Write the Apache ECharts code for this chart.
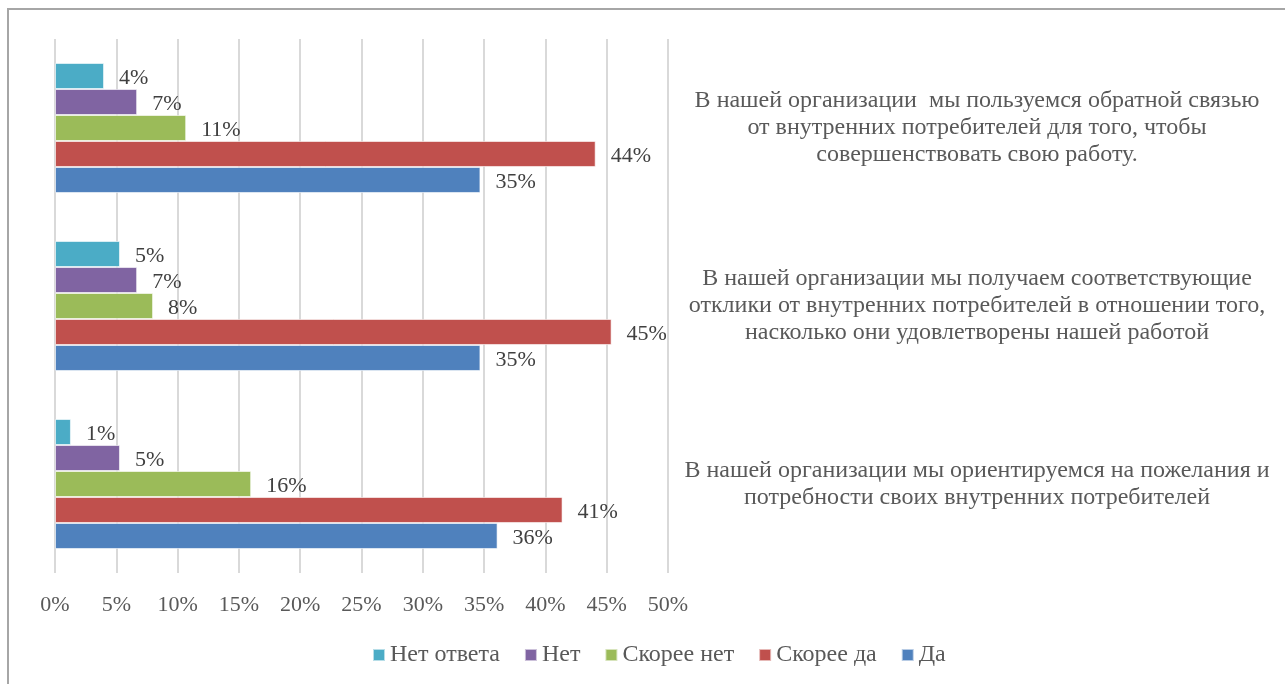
<!DOCTYPE html>
<html>
<head>
<meta charset="utf-8">
<script src="https://cdn.jsdelivr.net/npm/echarts@6/dist/echarts.min.js"></script>
<style>
html,body{margin:0;padding:0;background:#fff;}
#chart{width:1285px;height:684px;}
</style>
</head>
<body>
<div id="chart"></div>
<script>
// categories, bottom to top
const categories = [
  'В нашей организации мы ориентируемся на пожелания и\nпотребности своих внутренних потребителей',
  'В нашей организации мы получаем соответствующие\nотклики от внутренних потребителей в отношении того,\nнасколько они удовлетворены нашей работой',
  'В нашей организации  мы пользуемся обратной связью\nот внутренних потребителей для того, чтобы\nсовершенствовать свою работу.'
];
const legendOrder = ['Нет ответа', 'Нет', 'Скорее нет', 'Скорее да', 'Да'];
// values in percent, per category (bottom to top)
const noAnswer = [1.3, 5.3, 4.0];
const no = [5.3, 6.7, 6.7];
const ratherNo = [16.0, 8.0, 10.7];
const ratherYes = [41.4, 45.4, 44.1];
const yes = [36.1, 34.7, 34.7];
const xTicks = [0, 5, 10, 15, 20, 25, 30, 35, 40, 45, 50];

const font = '"Liberation Serif", "Times New Roman", serif';
const seriesDefs = [
  {name: 'Нет ответа', data: noAnswer, color: '#4BACC6'},
  {name: 'Нет', data: no, color: '#8064A2'},
  {name: 'Скорее нет', data: ratherNo, color: '#9BBB59'},
  {name: 'Скорее да', data: ratherYes, color: '#C0504D'},
  {name: 'Да', data: yes, color: '#4F81BD'}
];

const chart = echarts.init(document.getElementById('chart'), null, {renderer: 'canvas'});
chart.setOption({
  animation: false,
  backgroundColor: '#fff',
  graphic: [{
    type: 'rect', shape: {x: 8, y: 9, width: 1400, height: 800},
    style: {fill: 'none', stroke: '#a6a6a6', lineWidth: 2}, silent: true, z: 100
  }],
  grid: {left: 55, right: 617, top: 39, bottom: 111, containLabel: false},
  legend: {
    data: legendOrder,
    bottom: 12,
    left: 367,
    icon: 'rect',
    itemWidth: 12, itemHeight: 12, itemGap: 24,
    textStyle: {fontFamily: font, fontSize: 24, color: '#595959'}
  },
  xAxis: {
    type: 'value', min: xTicks[0], max: xTicks[xTicks.length - 1], interval: 5,
    axisLine: {show: false}, axisTick: {show: false},
    splitLine: {lineStyle: {color: '#d9d9d9', width: 2}},
    axisLabel: {formatter: v => v + '%', fontFamily: font, fontSize: 22, color: '#595959', margin: 21}
  },
  yAxis: {
    type: 'category', data: categories, position: 'right',
    axisLine: {show: false}, axisTick: {show: false},
    axisLabel: {align: 'center', margin: 309, fontFamily: font, fontSize: 24, lineHeight: 27,
      color: '#595959', padding: [6, 0, 0, 0]}
  },
  series: seriesDefs.map(s => ({
    name: s.name, type: 'bar', data: s.data,
    barGap: '0%', barCategoryGap: '27%',
    itemStyle: {color: s.color, borderColor: 'rgba(255,255,255,0.6)', borderWidth: 1},
    label: {show: true, position: 'right', distance: 15, offset: [0, 2], formatter: p => Math.round(p.value) + '%',
      fontFamily: font, fontSize: 22, color: '#404040'}
  }))
});
</script>
</body>
</html>
